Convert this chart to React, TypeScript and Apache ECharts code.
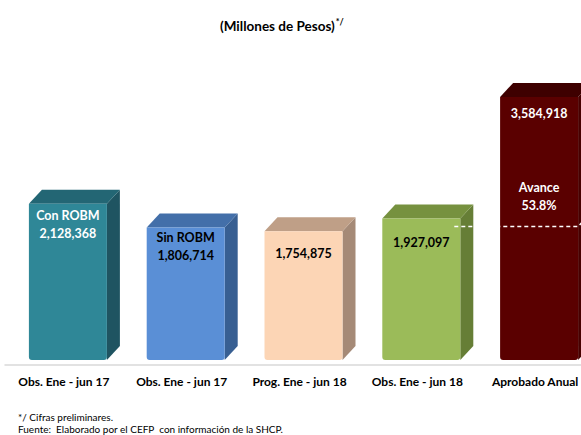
import React, { useEffect, useRef } from "react";
import * as echarts from "echarts";

const categories = [
  "Obs. Ene - jun 17",
  "Obs. Ene - jun 17",
  "Prog. Ene - jun 18",
  "Obs. Ene - jun 18",
  "Aprobado Anual",
];
const values = [2128368, 1806714, 1754875, 1927097, 3584918];
const barTags = ["Con ROBM", "Sin ROBM", "", "", ""];
const avanceLabel = "Avance";
const avancePct = "53.8%";
const avanceIndex = 3; // observed bar compared against the annual approved
const titleText = "(Millones de Pesos)";
const titleNote = "*/";
const footnotes = [
  "*/ Cifras preliminares.",
  "Fuente:  Elaborado por el CEFP  con información de la SHCP.",
];

// styles
const frontColors = ["#2f8797", "#5a8fd6", "#fcd5b5", "#9bbb59", "#5a0000"];
const topColors = ["#236674", "#436fa9", "#bf9f87", "#76913f", "#3e0000"];
const sideColors = ["#1f5461", "#385f92", "#a58a77", "#667e36", "#470000"];
const textColors = ["#ffffff", "#000000", "#000000", "#000000", "#ffffff"];
const labelOffsets = [3, 1, 13, 15, 8];

const FONT = "Lato, 'Open Sans', sans-serif";

const fmt = (v: number) => v.toLocaleString("en-US");

export default function App() {
  const ref = useRef<HTMLDivElement>(null);
  useEffect(() => {
    if (!ref.current) return;
    const chart = echarts.init(ref.current, null, { renderer: "svg" });
    const W = 78;
    const SHIFT = 4;
    const DX = 13;
    const DY = 14;
    const LIFT = 4.5;
    const option: any = {
      animation: false,
      backgroundColor: "#ffffff",
      title: {
        text: `{a|${titleText}}{b|${titleNote}}`,
        left: 215,
        top: 12,
        textStyle: {
          rich: {
            a: { fontFamily: FONT, fontWeight: "bold", fontSize: 13.5, color: "#000", lineHeight: 18 },
            b: { fontFamily: FONT, fontSize: 9, color: "#000", verticalAlign: "top", lineHeight: 18, padding: [0, 0, 6, 1] },
          },
        },
      },
      grid: { left: 5, width: 589, top: 71, height: 293.5 },
      xAxis: {
        type: "category",
        data: categories,
        axisLine: { show: true, lineStyle: { color: "#d9d9d9", width: 1.5 } },
        axisTick: { show: false },
        axisLabel: {
          margin: 11,
          interval: 0,
          fontFamily: FONT,
          fontWeight: "bold",
          fontSize: 12,
          color: "#000",
        },
      },
      yAxis: {
        type: "value",
        min: 0,
        max: 4000000,
        show: false,
        splitLine: { show: false },
      },
      series: [
        {
          type: "custom",
          data: values.map((v, i) => [i, v]),
          clip: false,
          renderItem: (params: any, api: any) => {
            const i = api.value(0);
            const v = api.value(1);
            const [cx, b0] = api.coord([i, 0]);
            const [, t0] = api.coord([i, v]);
            const baseY = b0 - LIFT;
            const topY = t0 - LIFT;
            const x0 = cx + SHIFT - W / 2;
            const x1 = x0 + W;
            const children: any[] = [
              {
                type: "polygon",
                shape: { points: [[x1, topY], [x1 + DX, topY - DY], [x1 + DX, baseY - DY], [x1, baseY]] },
                style: { fill: sideColors[i] },
              },
              {
                type: "polygon",
                shape: { points: [[x0, topY], [x0 + DX, topY - DY], [x1 + DX, topY - DY], [x1, topY]] },
                style: { fill: topColors[i] },
              },
              {
                type: "rect",
                shape: { x: x0, y: topY, width: W, height: baseY - topY, r: [0, 0, 3, 3] },
                style: { fill: frontColors[i] },
              },
              {
                type: "text",
                style: {
                  text: barTags[i] ? `${barTags[i]}\n${fmt(v)}` : fmt(v),
                  x: cx + SHIFT,
                  y: topY + labelOffsets[i],
                  align: "center",
                  verticalAlign: "top",
                  fontFamily: FONT,
                  fontWeight: "bold",
                  fontSize: 12.5,
                  lineHeight: 18,
                  fill: textColors[i],
                },
              },
            ];
            if (i === values.length - 1) {
              const [ax, ay0] = api.coord([avanceIndex, values[avanceIndex]]);
              const lineY = ay0 - LIFT + 8;
              const lx0 = ax + SHIFT + W / 2 - 6;
              children.push({
                type: "polyline",
                shape: { points: [[lx0, lineY], [x1, lineY], [x1 + DX, lineY - DY]] },
                style: { stroke: "#ffffff", lineWidth: 1.5, lineDash: [4, 3], fill: "none" },
              });
              children.push({
                type: "text",
                style: {
                  text: `${avanceLabel}\n${avancePct}`,
                  x: cx + SHIFT,
                  y: lineY - 12,
                  align: "center",
                  verticalAlign: "bottom",
                  fontFamily: FONT,
                  fontWeight: "bold",
                  fontSize: 12.5,
                  lineHeight: 18,
                  fill: "#ffffff",
                },
              });
            }
            return { type: "group", children };
          },
        },
      ],
      graphic: footnotes.map((t, k) => ({
        type: "text",
        left: 18,
        top: 412 + k * 12,
        style: { text: t, fontFamily: FONT, fontSize: 10, fill: "#000" },
      })),
    };
    chart.setOption(option);
    return () => chart.dispose();
  }, []);
  return (
    <div
      ref={ref}
      style={{ position: "fixed", left: 0, top: 0, width: 600, height: 435, background: "#fff" }}
    />
  );
}
